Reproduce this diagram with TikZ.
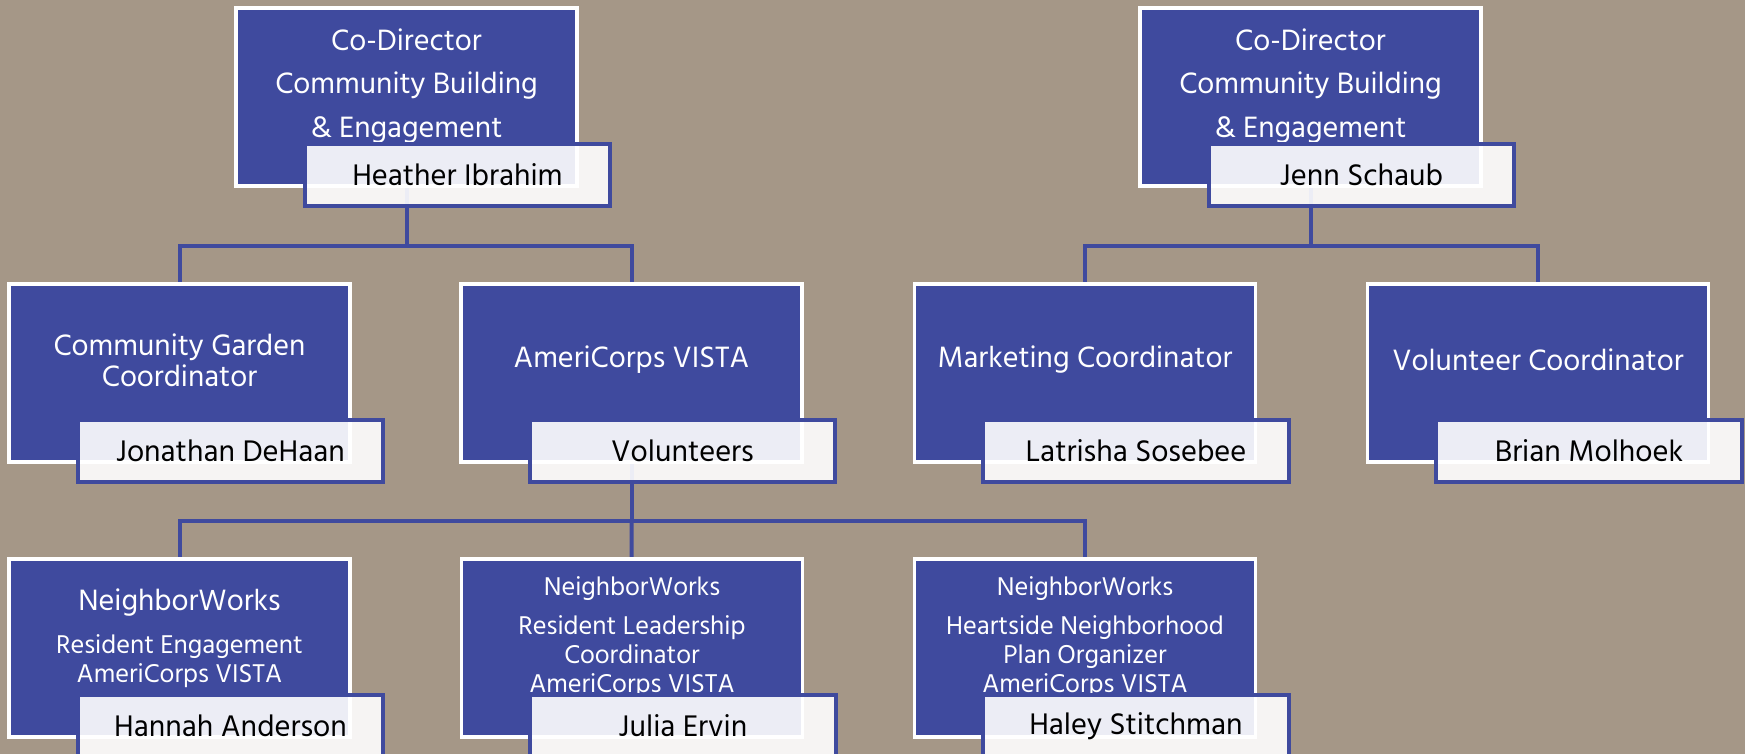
\documentclass[tikz,border=0pt]{standalone}
\usepackage{fontspec}
\setmainfont{Hind Madurai}
\usetikzlibrary{positioning}
\definecolor{boxblue}{HTML}{3F4A9E}
\definecolor{paper}{HTML}{A59787}
\pgfdeclarelayer{back}
\pgfdeclarelayer{links}
\pgfsetlayers{back,links,main}
\tikzset{
  role/.style={draw=white, line width=0.07cm, fill=boxblue, minimum width=6.82cm, minimum height=3.56cm, inner sep=0pt},
  title/.style={text=white, align=center, inner sep=0pt, font=\fontsize{17.2}{24.8}\selectfont},
  midtitle/.style={title, font=\fontsize{17.2}{17.8}\selectfont},
  smalltitle/.style={title, font=\fontsize{15}{16.4}\selectfont},
  person/.style={draw=boxblue, line width=0.08cm, fill=white, fill opacity=0.9, text opacity=1, text=black, minimum width=6.12cm, minimum height=1.24cm, inner sep=0pt, font=\fontsize{17.4}{18}\selectfont},
  link/.style={draw=boxblue, line width=0.08cm}
}
\begin{document}
\begin{tikzpicture}[x=0.02cm, y=-0.02cm]
    \useasboundingbox (0,0) rectangle (1745,754);
    \clip (0,0) rectangle (1745,754);

    % co-directors
    \node[role] (heather) at (406.5,97) {};
    \node[title] (heather-t) at ([shift={(0,-11)}]heather.center) {Co-Director\\Community Building\\\& Engagement};
    \node[person] (heather-n) at ([shift={(51,78)}]heather.center) {Heather Ibrahim};

    \node[role] (jenn) at (1310.5,97) {};
    \node[title] (jenn-t) at ([shift={(0,-11)}]jenn.center) {Co-Director\\Community Building\\\& Engagement};
    \node[person] (jenn-n) at ([shift={(51,78)}]jenn.center) {Jenn Schaub};

    % second row
    \node[role] (garden) at (179.5,373) {};
    \node[midtitle] (garden-t) at ([shift={(0,-13)}]garden.center) {Community Garden\\Coordinator};
    \node[person] (garden-n) at ([shift={(51,78)}]garden.center) {Jonathan DeHaan};

    \node[role] (vista) at (631.5,373) {};
    \node[midtitle] (vista-t) at ([shift={(0,-13)}]vista.center) {AmeriCorps VISTA};
    \node[person] (vista-n) at ([shift={(51,78)}]vista.center) {Volunteers};

    \node[role] (marketing) at (1085,373) {};
    \node[midtitle] (marketing-t) at ([shift={(0,-13)}]marketing.center) {Marketing Coordinator};
    \node[person] (marketing-n) at ([shift={(51,78)}]marketing.center) {Latrisha Sosebee};

    \node[role] (volunteer) at (1538,373) {};
    \node[midtitle] (volunteer-t) at ([shift={(0,-13)}]volunteer.center) {Volunteer Coordinator};
    \node[person] (volunteer-n) at ([shift={(51,78)}]volunteer.center) {Brian Molhoek};

    % VISTA row
    \node[role] (engage) at (179.5,648) {};
    \node[smalltitle] (engage-t) at ([shift={(0,-10)}]engage.center) {{\fontsize{17.2}{16}\selectfont NeighborWorks}\\[8pt]Resident Engagement\\AmeriCorps VISTA};
    \node[person] (engage-n) at ([shift={(51,78)}]engage.center) {Hannah Anderson};

    \node[role] (leader) at (632,648) {};
    \node[smalltitle] (leader-t) at ([shift={(0,-11)}]leader.center) {NeighborWorks\\[6pt]Resident Leadership\\Coordinator\\AmeriCorps VISTA};
    \node[person] (leader-n) at ([shift={(51,78)}]leader.center) {Julia Ervin};

    \node[role] (plan) at (1085,648) {};
    \node[smalltitle] (plan-t) at ([shift={(0,-11)}]plan.center) {NeighborWorks\\[6pt]Heartside Neighborhood\\Plan Organizer\\AmeriCorps VISTA};
    \node[person] (plan-n) at ([shift={(51,78)}]plan.center) {Haley Stitchman};

    \begin{pgfonlayer}{links}
        \coordinate (left-bar) at (406.5,246);
        \coordinate (right-bar) at (1310.5,246);
        \coordinate (vista-bar) at (631.5,521);
        \draw[link] (heather.center) -- (left-bar) -| (garden.center);
        \draw[link] (left-bar) -| (vista.center);
        \draw[link] (jenn.center) -- (right-bar) -| (marketing.center);
        \draw[link] (right-bar) -| (volunteer.center);
        \draw[link] (vista.center) -- (vista-bar) -| (engage.center);
        \draw[link] (vista-bar) -- (leader.center);
        \draw[link] (vista-bar) -| (plan.center);
    \end{pgfonlayer}
    \begin{pgfonlayer}{back}
        \fill[paper] (0,0) rectangle (1745,754);
    \end{pgfonlayer}
\end{tikzpicture}
\end{document}
